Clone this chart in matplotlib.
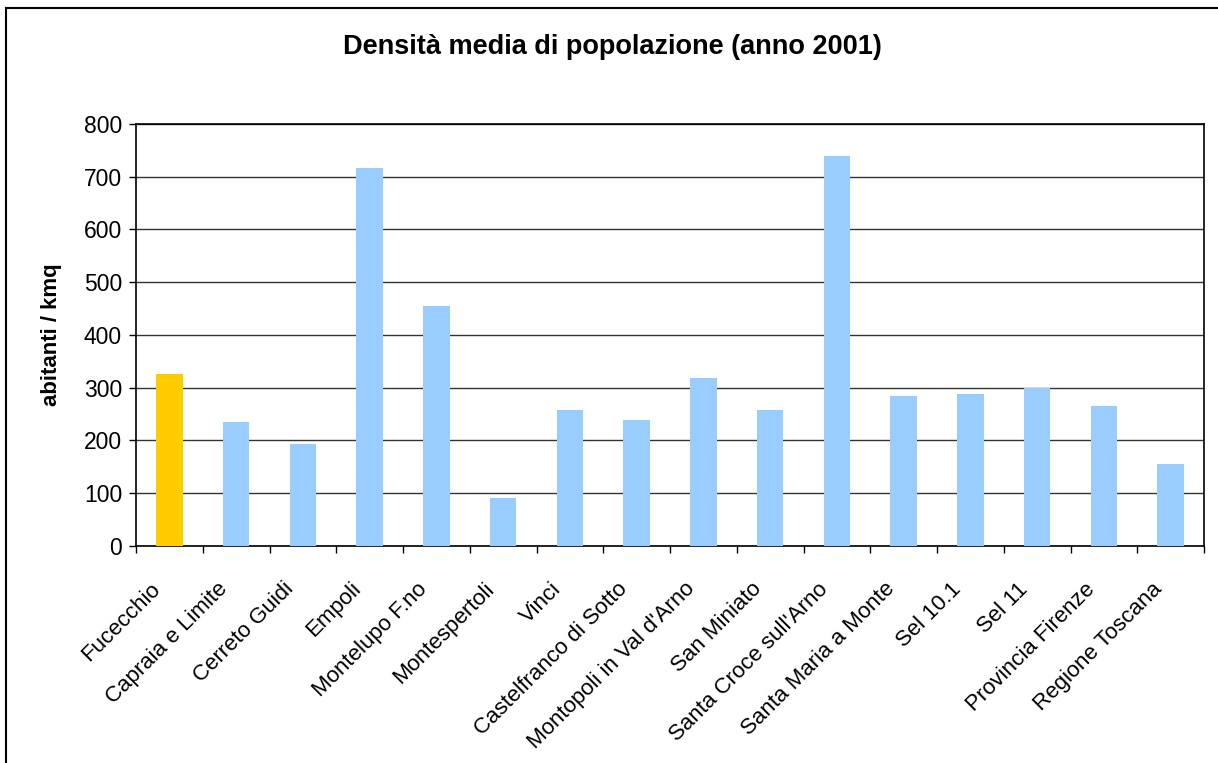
import matplotlib
matplotlib.use("Agg")
import matplotlib.pyplot as plt
from matplotlib.patches import Rectangle
from matplotlib.transforms import ScaledTranslation

plt.rcParams['font.family'] = ['Liberation Sans', 'DejaVu Sans']

# Population density per municipality / area (inhabitants per km², year 2001)
comuni = [
    "Fucecchio", "Capraia e Limite", "Cerreto Guidi", "Empoli",
    "Montelupo F.no", "Montespertoli", "Vinci", "Castelfranco di Sotto",
    "Montopoli in Val d'Arno", "San Miniato", "Santa Croce sull'Arno",
    "Santa Maria a Monte", "Sel 10.1", "Sel 11", "Provincia Firenze",
    "Regione Toscana",
]
densita = [326, 235, 193, 717, 455, 91, 258, 239, 318, 258, 739, 284, 288, 300, 265, 155]
y_ticks = [0, 100, 200, 300, 400, 500, 600, 700, 800]

highlight_color = "#FFCC00"
base_color = "#99CCFF"
colors = [highlight_color] + [base_color] * (len(comuni) - 1)

fig = plt.figure(figsize=(12.18, 7.63), dpi=100)
fig.patch.set_facecolor("white")

# outer chart-area frame
fig.patches.append(Rectangle((6 / 1218, -0.05), 1.2, 1 - 8 / 763 + 0.05,
                             transform=fig.transFigure, fill=False,
                             edgecolor="black", linewidth=1.5, zorder=0))

ax = fig.add_axes([136 / 1218, 1 - 545.7 / 763, (1204 - 136) / 1218, (545.7 - 124) / 763])

x = list(range(len(comuni)))
ax.bar(x, densita, width=0.4, color=colors, zorder=3)

ax.set_xlim(-0.5, len(comuni) - 0.5)
ax.set_ylim(0, 800)
ax.set_yticks(y_ticks)
ax.set_yticklabels([str(v) for v in y_ticks], fontsize=16.5)
ax.yaxis.grid(True, color="#333333", linewidth=1.0, zorder=1)
ax.set_axisbelow(True)

ax.set_xticks(x)
ax.set_xticklabels(comuni, rotation=45, ha="right", va="center",
                   rotation_mode="anchor", fontsize=16)
ax.tick_params(axis="x", which="major", length=0, pad=29)
shift = ScaledTranslation(-12 / 100, 0, fig.dpi_scale_trans)
for lbl in ax.get_xticklabels():
    lbl.set_transform(lbl.get_transform() + shift)
ax.set_xticks([i + 0.5 for i in range(-1, len(comuni))], minor=True)
ax.tick_params(axis="x", which="minor", length=5, width=1, direction="out", color="black")
ax.tick_params(axis="y", length=5, width=1, direction="out", pad=5)

for s in ax.spines.values():
    s.set_color("black")
    s.set_linewidth(1.2)

ax.set_ylabel("abitanti / kmq", fontsize=16, fontweight="bold", labelpad=16)

fig.text(612 / 1218, 1 - 47 / 763, "Densità media di popolazione (anno 2001)",
         ha="center", va="center", fontsize=19.5, fontweight="bold")

fig.savefig("out.png", dpi=100, facecolor="white")
